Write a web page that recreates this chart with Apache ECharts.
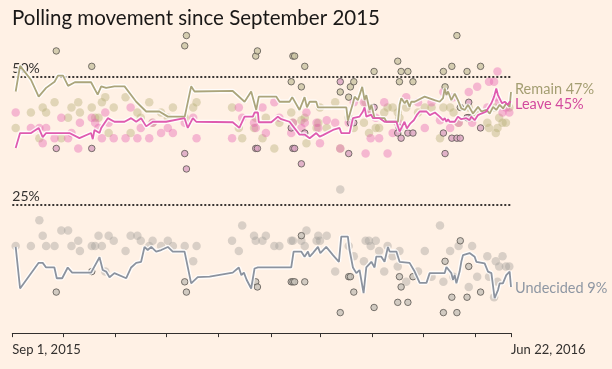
<!DOCTYPE html>
<html><head><meta charset="utf-8">
<script src="https://cdn.jsdelivr.net/npm/echarts@6/dist/echarts.min.js"></script>
<style>html,body{margin:0;padding:0;background:#fff1e5;}#c{width:612px;height:369px;}</style>
</head><body><div id="c"></div>
<script>
// x values are days since 1 Sep 2015 (295 = 22 Jun 2016); y values are %
const titleText = 'Polling movement since September 2015';
const monthTicks = [0, 30, 61, 91, 122, 153, 182, 213, 243, 274, 295];
const edgeTicks = [0, 295];
const edgeLabels = ['Sep 1, 2015', 'Jun 22, 2016'];
const refLines = [50, 25];
const refLabels = ['50%', '25%'];

const remainLine = [[2,47.1],[4.6,52.1],[11,49.4],[15.6,46.1],[20,47.8],[25,49],[27,50.2],[30,50.2],[33,48.2],[37,48.9],[46.6,48.9],[50.5,46.5],[52.6,48.1],[55.5,47.8],[60.4,48.1],[66.4,48.1],[73.3,45.1],[79.2,43.2],[87,43.2],[92,42.2],[102,42.2],[105.8,48.1],[107.8,47.1],[130.4,47.2],[137.4,45.1],[141.3,47.1],[144.3,43.5],[145.8,46.1],[156.1,46.1],[158.1,45.1],[164,45.1],[165.6,46],[169.9,43.5],[172.9,46],[174.3,44],[175.9,45.1],[179.8,45.1],[180.8,44],[197.6,44],[198.5,41.4],[201.5,44.8],[202.5,46.1],[204.4,45.4],[207,48],[208.4,45.4],[209.4,46.4],[211.4,43.5],[212.4,44.5],[214.3,41.9],[220.2,41.9],[221.3,41.2],[228.1,41.2],[229.1,44.5],[230.1,45.8],[232.1,44.8],[233.4,45.4],[235,44.1],[236,45.1],[238,45.1],[243.9,46.1],[249.8,45.4],[252.8,45.1],[254.8,45.8],[255.8,47.7],[256.8,46.4],[257.8,47.1],[259.7,45.4],[261.7,46.7],[263.6,45.4],[265.6,43.8],[267.6,43.5],[269.6,44.5],[272.5,42.8],[275.5,44.1],[277.5,43.2],[280.5,43.5],[282.4,42.8],[284.4,44.1],[286.3,43.5],[288.3,44.5],[290.3,43.8],[292.2,44.8],[294.2,44.1],[295,47]];

const leaveLine = [[2,36.1],[4.6,39],[11.1,39],[15.6,40],[18,38.2],[20,39],[33.8,39],[39.7,38],[46.6,39],[47.6,37.8],[48.6,39.6],[51.6,39],[52.6,40],[56.5,41.9],[60.4,41.2],[66.4,41.2],[70.3,41.9],[73.3,41.2],[76.2,41.9],[79.2,40.3],[83.1,41.2],[91,41.2],[101.9,41.9],[103.8,40],[106.8,41.9],[108.8,41.2],[130.4,41.1],[134.3,40],[137.4,42.2],[142.3,42.2],[143.3,43],[145.3,43],[145.8,41.1],[153.2,41.1],[157.1,42.2],[159.1,41.7],[164,41.2],[169.9,38.7],[172.9,38.7],[175.9,38],[179.8,39],[181.8,38.3],[183.8,38.6],[189.7,39.6],[193.6,40],[194.6,39],[199.5,39],[201.5,41.9],[205.4,42.2],[207.4,43.2],[208.4,44],[209.4,42.2],[210.4,41.9],[212.3,42.6],[213.3,41.9],[217.3,41.9],[220.2,41.2],[227.2,41.2],[229.1,39.3],[230.5,40.2],[232,41.2],[233.4,39.9],[235.5,40.9],[237.5,41.5],[239.5,42.6],[241,43.2],[245,43.2],[247,42.5],[250,43],[252.8,42.2],[254.8,41.5],[255.8,41.9],[256.8,41.2],[257.8,41.7],[258.7,41.2],[259.7,41.5],[261.7,41.2],[263.6,42.2],[265.6,41.7],[268.6,41.9],[270.5,41.5],[271.5,42.2],[273.5,41.5],[275.5,42.5],[277.5,42.8],[280.5,43.2],[281.4,43.8],[283.4,44.8],[285,46.1],[286.3,47.7],[287.3,46.4],[288.3,46.1],[289.7,44.8],[291.3,45.1],[293.2,44.5],[294.2,45.1],[295,45]];

const undecidedLine = [[2,16.8],[4.6,8.7],[15.6,13.7],[18,13.7],[20,12.8],[24.9,12.8],[26.3,10.7],[29.5,10.7],[32.8,12.8],[35.4,11.8],[46.6,11.8],[51.6,14.8],[53.5,12.3],[55.5,12],[57.5,10.9],[60.4,11.7],[67.4,10.7],[70.3,12.8],[73.3,13.7],[76.2,13.9],[78.2,16.8],[80.1,16.2],[82.2,16.8],[85.1,15.9],[88.1,16.2],[92,16.8],[94.9,15.9],[101.9,15.9],[105.8,9.7],[109.7,10.9],[116.7,11],[130.4,11.8],[134,12.8],[135.5,11.3],[137,11.8],[138.6,10.4],[141.3,8.7],[143.3,12.6],[145.3,12.8],[165,12.8],[166.4,15.9],[170.9,15.9],[172.9,14.9],[174.9,15.9],[175.9,14.9],[177.8,15.6],[180.8,16.8],[182.2,15.6],[185.7,16.8],[189.7,15.2],[193.2,13.9],[194.6,18.8],[198.5,18.8],[199.5,16.2],[201.5,12.8],[203.5,11.7],[205.4,12.3],[207.8,7.8],[209.4,12.8],[212.4,13.9],[214.3,12.8],[215.3,14.9],[218.3,14.9],[220.2,13.9],[222.2,16.8],[223.2,15.9],[227.2,15.9],[229.1,13.9],[235,13.7],[238,12],[241,9.8],[245,9.8],[246.9,11.7],[255.8,11.7],[256.8,12.9],[259.7,11.7],[260.7,10.4],[261.7,11.3],[262.7,9.7],[264.6,12],[265.6,13.9],[266.6,15.2],[270.5,15.6],[271.5,15.9],[273.5,14.9],[274.5,13.9],[279.4,13.6],[281.4,12],[283.4,11.7],[285.3,6.8],[286.3,6.5],[287.3,8.4],[288.3,9.7],[290.2,9.7],[292.2,11.3],[294.2,12],[295,9]];

// individual online polls
const onlineDays =      [2,11,16,18,20,25,29,33,35,39,40,47,49,51,53,55,57,60,67,70,74,76,81,83,88,92,95,102,107,109,130,134,136,143,144,148,150,155,158,165,166,171,173,174,180,181,182,186,191,194,199,202,208,209,211,212,215,217,220,222,225,228,229,233,240,244,248,253,255,259,261,264,270,272,275,281,282,285,286,287,288,290,292,294];
const onlineRemain =    [40,43,38,44,43,45,38,42,44,45,43,44,42,42,45,46,39,44,46,39,43,42,45,41,43,42,44,42,44,45,44,40,38,40,42,38,42,36,41,43,41,41.5,42,37,40,41,44,40,45,36,42,40,41,45,39,43,40,40,43,44,44,43,42,44,43,44,44,38,44,44,43,41,44,42,43,41,40,44,39,40,42,41,41,44];
const onlineLeave =     [43,40,40,37,40,38,42,38,39,36,41,42,41,40,38,43,41,38,38,44,38,40,38,41,39,40,39,41,42,38,38,44,42,41,40,44,39,45,42,39,41,40,41,43,41,40,37,41.5,41,36,41,45,45,35,43,38,42,38,45,35,39,41,40,46,45,40,45,41.5,47,40,46,41,47,41,48,44,49,49,46,51,45,43,44,43];
const onlineUndecided = [17,17,22,19,17,17,20,20,17,18,16,17,17,19,17,12,19,18,16,19,19,18,17,18,17,18,17,17,14,17,18,16,21,19,18,18,19,17,17,18,18,18,17,20,18,19,18,19,12,28,17,15,14,18,18,17,18,16,12,17,15,13,16,10,12,16,11,21,10,16,11,17,9,17,11,15,11,7,14,10,13,15,13,13];

// individual phone polls
const phoneDays =      [26,47,102,103,144,145,165,166,167,171,173,194,199,200,202,214,228,229,230,234,237,255,256,260,263,265,269,270,277];
const phoneRemain =    [55,52,56,58,54,55,49,54,54,48,52,47,46,48,49,51,53,49,51,51,49,51,48,52,58,44,51,42,52];
const phoneLeave =     [36,36,35,32,36,36,40,36,36,33,39,49,35,41,41,44,39,40,38,39,39,39,35,38,38,38,42,45,40];
const phoneUndecided = [8,12,10,8,10,9,10,10,10,19,10,4,11,11,8,5,6,11,9,6,11,4,14,7,4,18,7,13,8];

const FONT = 'Lato, "Open Sans", sans-serif';
const pairs = (xs, ys) => xs.map((x, i) => [x, ys[i]]);

const colors = {
  remain: '#aba57b', leave: '#df5baf', undecided: '#8c939f',
  remainLbl: '#a49e72', leaveLbl: '#d34a9e', undecidedLbl: '#8f97a3'
};

function online(name, xs, ys, col) {
  return { name: name + ' online', type: 'scatter', data: pairs(xs, ys), symbolSize: 8.5, z: 1,
    itemStyle: { color: col }, silent: true };
}
function phone(name, xs, ys, col) {
  return { name: name + ' phone', type: 'scatter', data: pairs(xs, ys), symbolSize: 6.5, z: 2,
    itemStyle: { color: col, borderColor: '#5b5651', borderWidth: 1 }, silent: true };
}
function halo(data) {
  return { type: 'line', data, symbol: 'none', z: 3, silent: true,
    lineStyle: { color: 'rgba(255,255,255,0.85)', width: 4.5 } };
}
function line(name, data, col, lblCol, dy) {
  return { name, type: 'line', data, symbol: 'none', z: 4, silent: true,
    lineStyle: { color: col, width: 1.8 },
    endLabel: { show: true, distance: 4, offset: [0, dy], color: lblCol, fontSize: 14.5, fontFamily: FONT,
      formatter: p => p.seriesName + ' ' + p.value[1] + '%' } };
}

const chart = echarts.init(document.getElementById('c'), null, { renderer: 'canvas' });
chart.setOption({
  animation: false,
  backgroundColor: '#fff1e5',
  title: { text: titleText, left: 12, top: 7.5, padding: 0,
    textStyle: { fontFamily: FONT, fontSize: 20.5, fontWeight: 'normal', color: '#1a1817' } },
  grid: { left: 12.3, right: 101, top: 25.3, bottom: 33.3, containLabel: false },
  xAxis: { type: 'value', min: 0, max: 295,
    axisLine: { show: true, lineStyle: { color: '#33302e', width: 1 } },
    axisTick: { show: true, length: 4, customValues: monthTicks, lineStyle: { color: '#33302e' } },
    axisLabel: { customValues: edgeTicks, align: 'left', margin: 8, fontSize: 13, fontFamily: FONT, color: '#33302e',
      formatter: v => edgeLabels[edgeTicks.indexOf(v)] || '' },
    splitLine: { show: false } },
  yAxis: { type: 'value', min: -0.5, max: 60, show: true,
    axisLine: { show: false }, axisTick: { show: false }, axisLabel: { show: false }, splitLine: { show: false } },
  series: [
    Object.assign(online('Remain', onlineDays, onlineRemain, 'rgba(179,173,115,0.5)'), {
      markLine: { silent: true, symbol: 'none', z: 0,
        lineStyle: { type: [2, 2], width: 2, color: '#3a3633' },
        label: { position: 'insideStartTop', distance: [0, 1], fontSize: 14, fontFamily: FONT, color: '#33302e',
          formatter: p => refLabels[refLines.indexOf(p.value)] },
        data: refLines.map(v => ({ yAxis: v })) } }),
    online('Leave', onlineDays, onlineLeave, 'rgba(229,97,177,0.5)'),
    online('Undecided', onlineDays, onlineUndecided, 'rgba(161,158,152,0.5)'),
    phone('Remain', phoneDays, phoneRemain, '#cbc4a3'),
    phone('Leave', phoneDays, phoneLeave, '#d9a3c0'),
    phone('Undecided', phoneDays, phoneUndecided, '#c6c0b8'),
    halo(remainLine), halo(leaveLine), halo(undecidedLine),
    line('Remain', remainLine, colors.remain, colors.remainLbl, -3),
    line('Leave', leaveLine, colors.leave, colors.leaveLbl, 2),
    line('Undecided', undecidedLine, colors.undecided, colors.undecidedLbl, 1)
  ]
});
</script></body></html>
